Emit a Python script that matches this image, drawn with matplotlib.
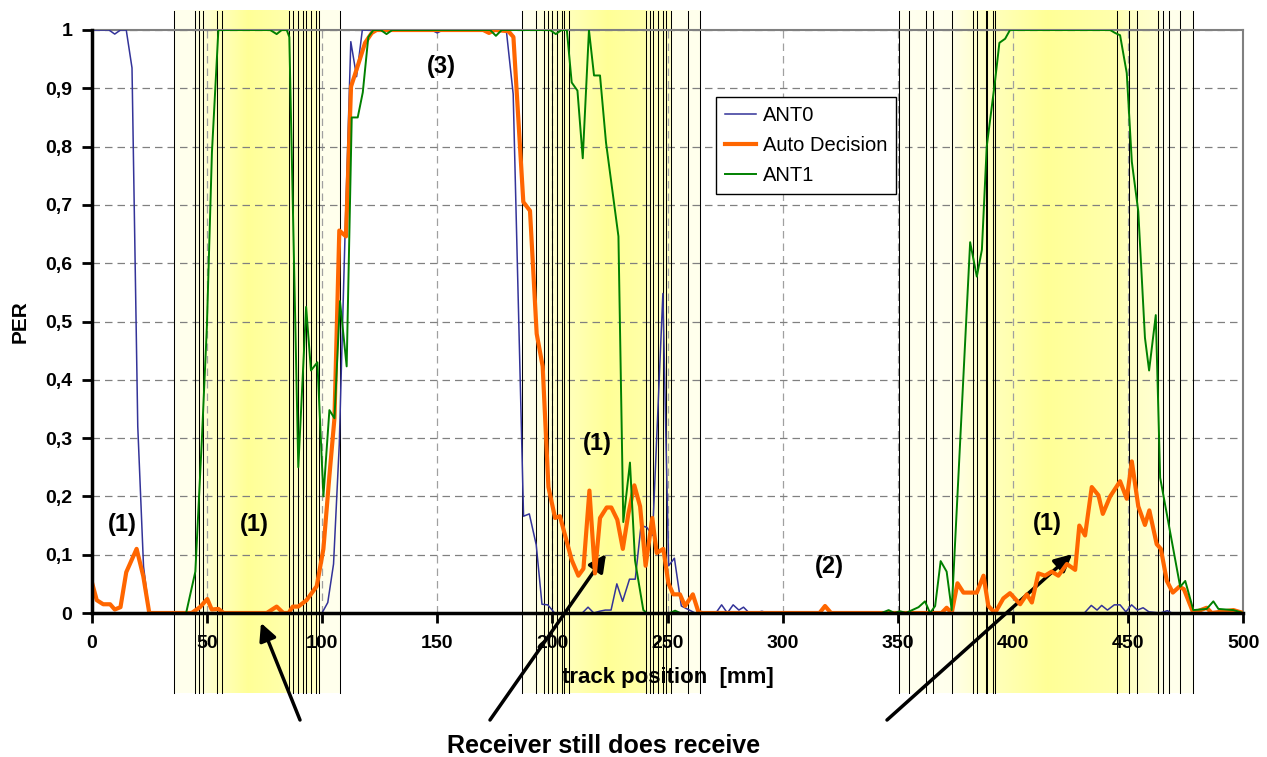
import numpy as np
import matplotlib
matplotlib.use('Agg')
import matplotlib.pyplot as plt

plt.rcParams['font.family'] = ['Liberation Sans', 'DejaVu Sans']

# ---- series (x in mm, PER) ----
ant0_x = [0, 7.5, 10, 12.5, 15, 17.5, 20, 22.5, 25,
          100, 102.5, 105, 107.5, 110, 112.5, 115, 117.5,
          147.5, 150, 152.5,
          180, 183, 187.5, 190, 193, 195.5, 198, 201, 213, 215.5, 218, 220.5, 223, 225.5,
          228, 230.5, 233.5, 236, 238.5, 241, 243.5, 248, 250.5, 253, 256, 259.5, 262,
          271, 273.5, 276, 278.5, 281, 283, 285.5, 288, 291, 293.5,
          431, 434, 436.5, 438.5, 441, 444, 446.5, 449, 451.5, 454, 456.5, 459, 464, 467, 469, 485]
ant0_y = [1, 1, 0.993, 1, 1, 0.935, 0.32, 0.08, 0,
          0, 0.018, 0.084, 0.29, 0.65, 0.98, 0.92, 1,
          1, 0.995, 1,
          1, 0.89, 0.166, 0.17, 0.117, 0.015, 0.014, 0, 0, 0.01, 0, 0.003, 0.005, 0.005,
          0.05, 0.02, 0.058, 0.058, 0.15, 0.147, 0.133, 0.548, 0.081, 0.094, 0.012, 0.005, 0,
          0, 0.014, 0, 0.014, 0.005, 0.01, 0, 0, 0.003, 0,
          0, 0.013, 0.005, 0.013, 0.005, 0.014, 0.014, 0.002, 0.014, 0.005, 0.009, 0.002, 0, 0.004, 0, 0]

auto_x = [0, 2.2, 5, 8, 10, 12.5, 15, 19.5, 22.4, 25, 43.4, 47, 50.2, 52.1, 55, 57.3, 76, 80.3,
          83.2, 85.5, 87.3, 89.7, 93.3, 97.7, 100.6, 103.2, 105.4, 107.5, 110.4, 112.6, 115.8,
          118.7, 121.6, 123.7, 170, 172.5, 175, 180.9, 183.1, 187.4, 190.3, 193.2, 195.8, 198.3,
          201.2, 203.3, 208.4, 211.3, 213.5, 216.1, 218.5, 220.7, 223.6, 225.6, 228.2, 230.6,
          233, 235.6, 238.1, 240.5, 243.4, 245.3, 248.2, 250.4, 252.5, 255.4, 257.6, 261, 263.4,
          265, 316, 318.4, 321, 369, 371.2, 373.4, 375.9, 378.5, 384.3, 387.2, 389.3, 392.2,
          395.8, 398.7, 403.1, 406, 408.2, 411, 413.9, 416.8, 419.7, 423.4, 427, 428.8, 431.3,
          434.2, 437.1, 439, 442.2, 446.5, 449.4, 451.6, 454.4, 457.3, 459.2, 462.4, 464.2,
          466.8, 469.4, 472.2, 474.2, 478.3, 484.1, 486.3, 495.7, 500]
auto_y = [0.054, 0.022, 0.015, 0.015, 0.006, 0.01, 0.07, 0.11, 0.063, 0, 0, 0.01, 0.024, 0.006,
          0.007, 0, 0, 0.011, 0, 0, 0.011, 0.011, 0.022, 0.046, 0.11, 0.235, 0.334, 0.656, 0.646,
          0.903, 0.942, 0.978, 0.995, 1, 1, 0.995, 1, 0.998, 0.988, 0.705, 0.69, 0.479, 0.423,
          0.216, 0.163, 0.166, 0.091, 0.064, 0.076, 0.21, 0.068, 0.163, 0.181, 0.181, 0.16, 0.11,
          0.17, 0.219, 0.183, 0.081, 0.163, 0.103, 0.11, 0.051, 0.032, 0.032, 0.012, 0.032, 0.002,
          0, 0, 0.012, 0, 0, 0.009, 0, 0.051, 0.035, 0.035, 0.064, 0.012, 0,
          0.025, 0.034, 0.015, 0.032, 0.018, 0.068, 0.064, 0.071, 0.064, 0.084, 0.074, 0.15, 0.133,
          0.216, 0.202, 0.17, 0.2, 0.226, 0.196, 0.26, 0.183, 0.151, 0.176, 0.118, 0.11,
          0.055, 0.035, 0.045, 0.041, 0, 0.009, 0, 0.005, 0]

ant1_x = [0, 41, 45, 47.8, 50, 52.2, 55, 77.5, 80.3, 82.5, 84.7, 85.8, 89.7, 93.1, 95.2, 98,
          100.6, 103.2, 105.4, 107.8, 110.7, 112.9, 115.5, 117.7, 120.1, 122.3, 125.5, 128,
          130.5, 173, 175.5, 178, 199, 201.5, 204, 206.3, 208.4, 210.9, 213.2, 215.9, 218.1,
          220.7, 223.3, 228.7, 230.8, 233.7, 235.9, 239.5, 241, 251, 253.3, 255.5, 343, 346,
          348.5, 351, 353.5, 359, 361.8, 364, 366.2, 368.6, 371.2, 373.4, 381.4, 384.3, 386.5,
          388.6, 392.2, 394.1, 396.6, 398.7, 442.2, 444.3, 446.5, 449.4, 451.6, 454.4, 457.3,
          459.1, 462, 463.9, 472.6, 474.8, 478.3, 484.1, 487, 489.2, 495.7, 500]
ant1_y = [0, 0, 0.071, 0.295, 0.49, 0.79, 1, 1, 0.993, 1, 1, 0.988, 0.25, 0.525, 0.416, 0.43,
          0.2, 0.348, 0.334, 0.535, 0.423, 0.85, 0.85, 0.893, 0.988, 1, 1, 0.993,
          1, 1, 0.99, 1, 1, 0.993, 1, 1, 0.91, 0.896, 0.78, 1, 0.922,
          0.922, 0.807, 0.646, 0.156, 0.258, 0.09, 0.005, 0, 0, 0.004, 0, 0, 0.005,
          0, 0.003, 0, 0.01, 0.02, 0, 0.012, 0.089, 0.071, 0.005, 0.636, 0.577, 0.623,
          0.8, 0.912, 0.978, 0.985, 1, 1, 0.995, 0.991, 0.926, 0.774, 0.689, 0.472,
          0.416, 0.511, 0.232, 0.045, 0.055, 0.005, 0.007, 0.02, 0.007, 0.005, 0]

# ---- shaded zones: (start, end, gradient stop positions, stop intensities) ----
bands = [
    (35.9, 107.8, [35.9, 45, 45.1, 56.4, 68, 85.8, 85.9, 98.6, 98.7, 107.8],
     [0.06, 0.06, 0.15, 0.6, 1.0, 0.75, 0.5, 0.5, 0.06, 0.06]),
    (187.0, 264.3, [187, 192.8, 192.9, 207.2, 224, 240.6, 240.7, 251.4, 251.5, 264.3],
     [0.06, 0.06, 0.15, 0.6, 1.0, 0.8, 0.5, 0.5, 0.06, 0.06]),
    (350.7, 478.1, [350.7, 373.4, 373.5, 392, 415, 445, 451, 464, 464.1, 478.1],
     [0.04, 0.06, 0.1, 0.6, 1.0, 0.75, 0.5, 0.35, 0.08, 0.06]),
]

# switch-over marker lines (mm)
marker_lines = [35.9, 45.0, 46.7, 48.5, 54.3, 56.4, 85.8, 87.3, 89.4, 91.6, 93.0, 95.2, 97.4,
                98.6, 107.8,
                187.0, 192.8, 196.4, 198.3, 199.7, 201.9, 204.1, 205.1, 207.2, 240.6, 242.4,
                243.9, 246.0, 248.2, 249.2, 251.4, 258.8, 264.3,
                350.7, 355.0, 362.1, 365.4, 373.4, 382.5, 384.5, 388.2, 388.9, 391.5, 392.2,
                445.1, 450.5, 454.0, 463.1, 465.3, 467.8, 472.6, 478.1]

notes = [('(1)', 13.2, 0.151), ('(1)', 70.5, 0.151), ('(3)', 151.7, 0.938),
         ('(1)', 219.6, 0.29), ('(2)', 320.2, 0.079), ('(1)', 414.8, 0.154)]

# arrow tips (data) and tails (figure pixels)
arrow_tips = [(73.5, -0.017), (223.3, 0.101), (425.7, 0.101)]
arrow_tails = [(300, 37), (490, 37), (887, 37)]

x_ticks = list(range(0, 501, 50))
y_ticks = [i / 10 for i in range(11)]
y_ticklabels = ['0', '0,1', '0,2', '0,3', '0,4', '0,5', '0,6', '0,7', '0,8', '0,9', '1']

W, H = 1267, 757
fig = plt.figure(figsize=(W / 100, H / 100), dpi=100)
ax = fig.add_axes([91.7 / W, 144 / H, 1151.6 / W, 583 / H])

y_lo, y_hi = -0.137, 1.033
for x0, x1, sx, st in bands:
    xs = np.linspace(x0, x1, 400)
    t = np.interp(xs, sx, st)
    img = np.ones((1, len(xs), 3))
    img[0, :, 2] = 0.95 - 0.36 * t
    im = ax.imshow(img, extent=[x0, x1, y_lo, y_hi], aspect='auto',
                   interpolation='bilinear', zorder=0.1)
    im.set_clip_on(False)

for xv in marker_lines:
    ax.axvline(xv, ymin=y_lo, ymax=y_hi, color='black', lw=0.75, clip_on=False, zorder=1)

ax.plot(ant0_x, ant0_y, color='#333399', lw=1.1, label='ANT0', zorder=3)
ax.plot(auto_x, auto_y, color='#FF6600', lw=3.0, label='Auto Decision', zorder=4)
ax.plot(ant1_x, ant1_y, color='#008000', lw=1.4, label='ANT1', zorder=5)

ax.set_xlim(0, 500)
ax.set_ylim(0, 1)
ax.set_xticks(x_ticks)
ax.set_yticks(y_ticks)
ax.set_yticklabels(y_ticklabels)

ax.yaxis.grid(True, ls=(0, (6, 4)), color='#808080', lw=0.9)
ax.xaxis.grid(True, ls=(0, (6, 4)), color='#a0a0a0', lw=0.9)
ax.set_axisbelow(True)

for s in ['top', 'right']:
    ax.spines[s].set_color('#808080')
    ax.spines[s].set_linewidth(1.5)
for s in ['left', 'bottom']:
    ax.spines[s].set_color('black')
    ax.spines[s].set_linewidth(2.5)
    ax.spines[s].set_zorder(6)

ax.tick_params(axis='both', direction='out', length=7, width=2, color='black')
ax.tick_params(axis='y', labelsize=14, pad=7)
ax.tick_params(axis='x', labelsize=14, pad=9)
for lab in ax.get_xticklabels() + ax.get_yticklabels():
    lab.set_fontweight('bold')

ax.set_xlabel('track position  [mm]', fontsize=16, fontweight='bold', va='center')
ax.xaxis.set_label_coords(0.5, (613 - 677) / 583)
ax.set_ylabel('PER', fontsize=15, fontweight='bold', va='center')
ax.yaxis.set_label_coords((20 - 91.7) / 1151.6, 0.5)

for txt, xv, yv in notes:
    ax.text(xv, yv, txt, fontsize=17, fontweight='bold', ha='center', va='center', zorder=7)

for tip, tail in zip(arrow_tips, arrow_tails):
    ax.annotate('', xy=tip, xycoords='data', xytext=tail, textcoords='figure pixels',
                annotation_clip=False,
                arrowprops=dict(arrowstyle='-|>', color='black', lw=2.5,
                                mutation_scale=26, shrinkA=0, shrinkB=0))

fig.text(604 / W, (H - 746) / H, 'Receiver still does receive', ha='center', va='center',
         fontsize=18, fontweight='bold')

leg = ax.legend(loc='upper left', bbox_to_anchor=((715.7 - 91.7) / 1151.6, (613 - 96.7) / 583),
                borderaxespad=0, fontsize=14.5, frameon=True, fancybox=False,
                edgecolor='black', framealpha=1, handlelength=1.55, handletextpad=0.35,
                labelspacing=0.55, borderpad=0.45)
leg.get_frame().set_linewidth(1.0)
leg.set_zorder(8)

fig.savefig('out.png', dpi=100)
